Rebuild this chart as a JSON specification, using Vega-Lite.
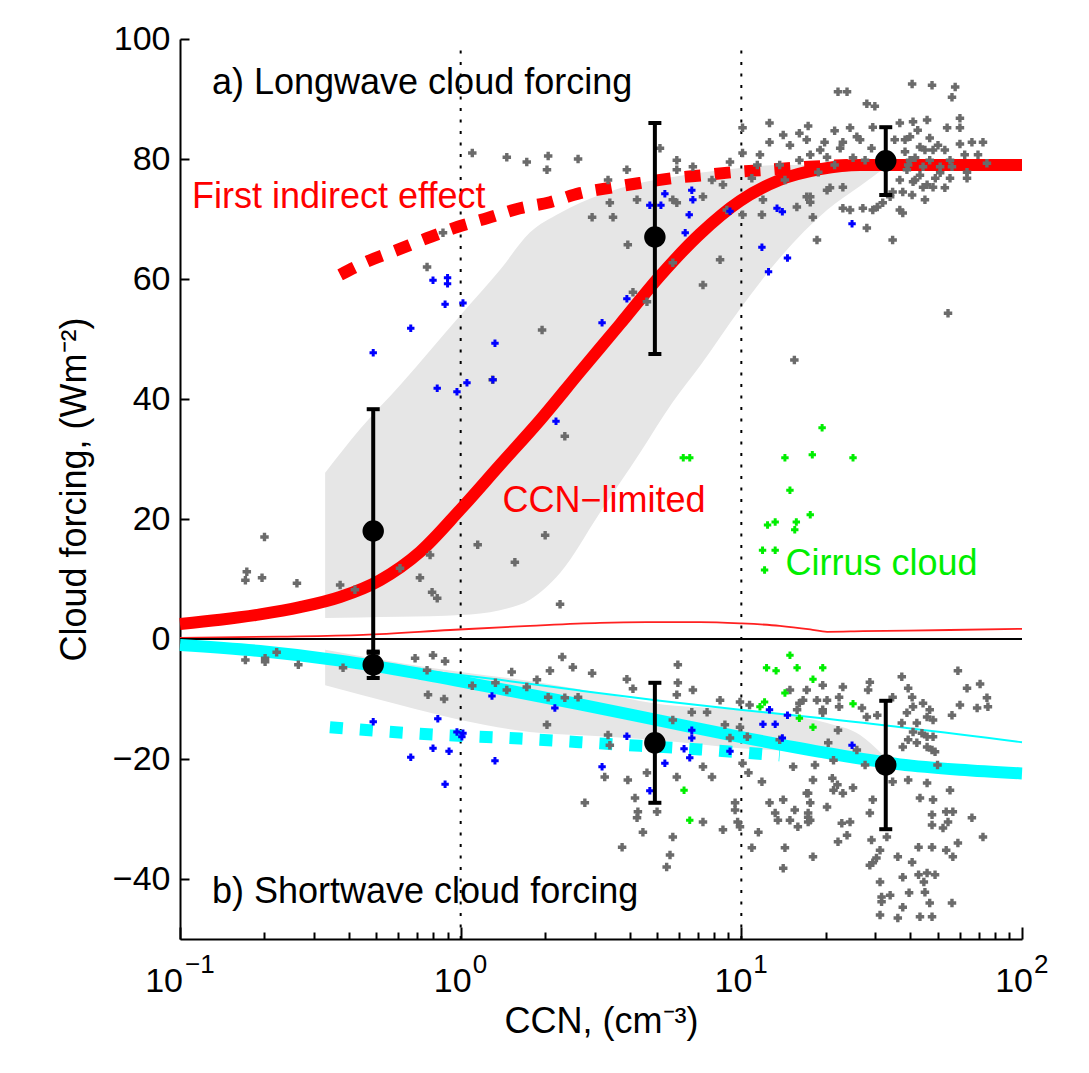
{
  "$schema": "https://vega.github.io/schema/vega-lite/v6.json",
  "width": 842,
  "height": 900,
  "autosize": {"type": "none"},
  "padding": {"left": 180, "top": 39, "right": 67, "bottom": 134},
  "background": "white",
  "config": {
    "view": {"stroke": null},
    "axis": {
      "domainColor": "#000000", "domainWidth": 2,
      "tickColor": "#000000", "tickWidth": 2,
      "labelColor": "#000000", "titleColor": "#000000",
      "labelFont": "Liberation Sans", "titleFont": "Liberation Sans",
      "labelFontSize": 34, "titleFontSize": 36, "titleFontWeight": "normal",
      "grid": false
    },
    "text": {"font": "Liberation Sans", "fontSize": 36}
  },
  "datasets": {
    "lwBand": [
      {"ccn": 0.329, "lo": 3.5, "hi": 27.7}, {"ccn": 0.438, "lo": 3.6, "hi": 35},
      {"ccn": 0.608, "lo": 3.7, "hi": 42.3}, {"ccn": 1.0, "lo": 4.0, "hi": 54},
      {"ccn": 1.38, "lo": 4.8, "hi": 61.5}, {"ccn": 1.76, "lo": 6.5, "hi": 67.7},
      {"ccn": 2.26, "lo": 11, "hi": 71}, {"ccn": 3.13, "lo": 21, "hi": 74},
      {"ccn": 4.35, "lo": 31, "hi": 76}, {"ccn": 5.7, "lo": 39.5, "hi": 77},
      {"ccn": 7.12, "lo": 45.5, "hi": 77.7}, {"ccn": 9.89, "lo": 55, "hi": 78.5},
      {"ccn": 13.7, "lo": 63.5, "hi": 79}, {"ccn": 20.2, "lo": 71.5, "hi": 79},
      {"ccn": 26.5, "lo": 75.5, "hi": 79}, {"ccn": 31.9, "lo": 78.3, "hi": 78.8}
    ],
    "swBand": [
      {"ccn": 0.329, "lo": -7.7, "hi": -1.8}, {"ccn": 0.608, "lo": -11, "hi": -4},
      {"ccn": 1.0, "lo": -13.5, "hi": -5.5}, {"ccn": 1.76, "lo": -15.5, "hi": -7},
      {"ccn": 3.13, "lo": -16.2, "hi": -9}, {"ccn": 4.86, "lo": -16.8, "hi": -10.7},
      {"ccn": 9.89, "lo": -18.2, "hi": -11.8}, {"ccn": 13.7, "lo": -18.6, "hi": -12.5},
      {"ccn": 20.2, "lo": -19, "hi": -14}, {"ccn": 26.5, "lo": -19.3, "hi": -16},
      {"ccn": 31.9, "lo": -19.5, "hi": -19.3}
    ],
    "lwLimited": [
      {"ccn": 0.1, "forcing": 2.5}, {"ccn": 0.1388, "forcing": 3.2}, {"ccn": 0.1928, "forcing": 4.1},
      {"ccn": 0.2677, "forcing": 5.3}, {"ccn": 0.3717, "forcing": 7.0}, {"ccn": 0.516, "forcing": 9.8},
      {"ccn": 0.716, "forcing": 14.5}, {"ccn": 0.994, "forcing": 21.5}, {"ccn": 1.38, "forcing": 29.0},
      {"ccn": 1.92, "forcing": 36.5}, {"ccn": 2.66, "forcing": 44.5}, {"ccn": 3.70, "forcing": 52.5},
      {"ccn": 5.13, "forcing": 60.5}, {"ccn": 7.12, "forcing": 67.5}, {"ccn": 9.89, "forcing": 73.0},
      {"ccn": 13.7, "forcing": 76.5}, {"ccn": 19.1, "forcing": 78.3}, {"ccn": 26.5, "forcing": 79.0},
      {"ccn": 36.7, "forcing": 79.0}, {"ccn": 100, "forcing": 79.0}
    ],
    "lwIndirect": [
      {"ccn": 0.372, "forcing": 60.7}, {"ccn": 0.459, "forcing": 62.8}, {"ccn": 0.592, "forcing": 64.8},
      {"ccn": 0.759, "forcing": 66.8}, {"ccn": 0.978, "forcing": 68.7}, {"ccn": 1.256, "forcing": 70.2},
      {"ccn": 1.626, "forcing": 71.8}, {"ccn": 2.08, "forcing": 72.8}, {"ccn": 2.66, "forcing": 74.3},
      {"ccn": 3.4, "forcing": 75.2}, {"ccn": 4.35, "forcing": 76.0}, {"ccn": 5.66, "forcing": 76.8},
      {"ccn": 7.3, "forcing": 77.3}, {"ccn": 9.32, "forcing": 77.8}, {"ccn": 12.3, "forcing": 78.2},
      {"ccn": 16.1, "forcing": 78.6}, {"ccn": 24, "forcing": 79}
    ],
    "lwThin": [
      {"ccn": 0.1, "forcing": 0.2}, {"ccn": 0.2272, "forcing": 0.4}, {"ccn": 0.449, "forcing": 0.7},
      {"ccn": 0.917, "forcing": 1.5}, {"ccn": 1.765, "forcing": 2.2}, {"ccn": 3.13, "forcing": 2.7},
      {"ccn": 4.61, "forcing": 2.8}, {"ccn": 7.12, "forcing": 2.8}, {"ccn": 9.89, "forcing": 2.6},
      {"ccn": 13.7, "forcing": 2.2}, {"ccn": 17.6, "forcing": 1.6}, {"ccn": 20.2, "forcing": 1.2},
      {"ccn": 27.1, "forcing": 1.3}, {"ccn": 55.4, "forcing": 1.5}, {"ccn": 100, "forcing": 1.7}
    ],
    "swLimited": [
      {"ccn": 0.1, "forcing": -1.0}, {"ccn": 0.1928, "forcing": -2.0}, {"ccn": 0.3717, "forcing": -3.6},
      {"ccn": 0.716, "forcing": -5.8}, {"ccn": 1.38, "forcing": -8.3}, {"ccn": 2.66, "forcing": -10.9},
      {"ccn": 5.13, "forcing": -13.6}, {"ccn": 9.89, "forcing": -16.3}, {"ccn": 19.1, "forcing": -18.8},
      {"ccn": 36.7, "forcing": -20.9}, {"ccn": 60.1, "forcing": -21.8}, {"ccn": 100, "forcing": -22.4}
    ],
    "swThin": [
      {"ccn": 0.1, "forcing": -1.0}, {"ccn": 0.3717, "forcing": -3.4}, {"ccn": 0.716, "forcing": -5.2},
      {"ccn": 1.38, "forcing": -6.8}, {"ccn": 2.66, "forcing": -8.6}, {"ccn": 5.13, "forcing": -10.3},
      {"ccn": 9.89, "forcing": -11.8}, {"ccn": 20.2, "forcing": -13.3}, {"ccn": 100, "forcing": -17.2}
    ],
    "swIndirect": [
      {"ccn": 0.342, "forcing": -14.7}, {"ccn": 0.716, "forcing": -15.8}, {"ccn": 1.626, "forcing": -16.6},
      {"ccn": 3.4, "forcing": -17.5}, {"ccn": 7.12, "forcing": -18.4}, {"ccn": 13.7, "forcing": -19.4}
    ],
    "verticals": [
      {"ccn": 1, "top": 99, "bottom": -50},
      {"ccn": 10, "top": 99, "bottom": -50}
    ],
    "means": [
      {"ccn": 0.488, "mean": 18, "lo": -2.3, "hi": 38.3},
      {"ccn": 0.488, "mean": -4.3, "lo": -6.5, "hi": -2.1},
      {"ccn": 4.92, "mean": 67, "lo": 47.5, "hi": 86},
      {"ccn": 4.92, "mean": -17.3, "lo": -27.3, "hi": -7.3},
      {"ccn": 32.7, "mean": 79.7, "lo": 74, "hi": 85.3},
      {"ccn": 32.7, "mean": -21, "lo": -31.7, "hi": -10.3}
    ],
    "other": [
      {"ccn": 1.10, "forcing": 81.0}, {"ccn": 1.46, "forcing": 80.3}, {"ccn": 1.72, "forcing": 79.5},
      {"ccn": 0.865, "forcing": 67.7}, {"ccn": 0.759, "forcing": 62.0}, {"ccn": 1.30, "forcing": 43.2},
      {"ccn": 2.05, "forcing": 80.5}, {"ccn": 2.03, "forcing": 78.2}, {"ccn": 2.62, "forcing": 80.0},
      {"ccn": 3.91, "forcing": 78.2}, {"ccn": 5.89, "forcing": 79.8}, {"ccn": 5.89, "forcing": 78.2},
      {"ccn": 6.72, "forcing": 78.7}, {"ccn": 9.11, "forcing": 79.5}, {"ccn": 10.1, "forcing": 81.0},
      {"ccn": 10.1, "forcing": 85.2}, {"ccn": 12.6, "forcing": 86.0}, {"ccn": 14.1, "forcing": 84.0},
      {"ccn": 11.65, "forcing": 80.7}, {"ccn": 12.6, "forcing": 82.8}, {"ccn": 3.35, "forcing": 76.5},
      {"ccn": 5.13, "forcing": 81.8}, {"ccn": 3.40, "forcing": 72.7}, {"ccn": 2.94, "forcing": 70.3},
      {"ccn": 3.49, "forcing": 70.3}, {"ccn": 4.25, "forcing": 73.2}, {"ccn": 5.70, "forcing": 73.2},
      {"ccn": 5.89, "forcing": 72.7}, {"ccn": 7.30, "forcing": 73.7}, {"ccn": 7.86, "forcing": 76.5},
      {"ccn": 8.60, "forcing": 75.7}, {"ccn": 8.88, "forcing": 71.5}, {"ccn": 10.1, "forcing": 70.7},
      {"ccn": 11.84, "forcing": 70.7}, {"ccn": 11.94, "forcing": 73.2}, {"ccn": 15.77, "forcing": 72.0},
      {"ccn": 17.6, "forcing": 73.7}, {"ccn": 17.98, "forcing": 70.3}, {"ccn": 18.6, "forcing": 66.5},
      {"ccn": 20.2, "forcing": 74.8}, {"ccn": 3.94, "forcing": 65.7}, {"ccn": 5.70, "forcing": 62.7},
      {"ccn": 8.40, "forcing": 63.2}, {"ccn": 7.30, "forcing": 59.0}, {"ccn": 4.11, "forcing": 57.8},
      {"ccn": 4.61, "forcing": 56.2}, {"ccn": 1.95, "forcing": 51.5}, {"ccn": 15.45, "forcing": 46.5},
      {"ccn": 22.1, "forcing": 91.2}, {"ccn": 23.8, "forcing": 91.2}, {"ccn": 28.0, "forcing": 89.2},
      {"ccn": 29.9, "forcing": 88.8}, {"ccn": 40.6, "forcing": 92.5}, {"ccn": 47.8, "forcing": 92.3},
      {"ccn": 57.8, "forcing": 92.0}, {"ccn": 56.3, "forcing": 90.3}, {"ccn": 17.3, "forcing": 85.5},
      {"ccn": 21.5, "forcing": 84.7}, {"ccn": 25.8, "forcing": 83.7}, {"ccn": 29.4, "forcing": 85.3},
      {"ccn": 36.7, "forcing": 86.0}, {"ccn": 40.9, "forcing": 86.2}, {"ccn": 45.9, "forcing": 86.5},
      {"ccn": 54.1, "forcing": 85.2}, {"ccn": 60.1, "forcing": 86.8}, {"ccn": 60.1, "forcing": 85.2},
      {"ccn": 66.3, "forcing": 82.8}, {"ccn": 72.6, "forcing": 82.8}, {"ccn": 69.7, "forcing": 80.7},
      {"ccn": 75.0, "forcing": 79.3}, {"ccn": 56.3, "forcing": 78.7}, {"ccn": 63.7, "forcing": 77.8},
      {"ccn": 63.7, "forcing": 76.8}, {"ccn": 51.1, "forcing": 77.7}, {"ccn": 44.4, "forcing": 75.3},
      {"ccn": 40.9, "forcing": 76.2}, {"ccn": 37.6, "forcing": 74.5}, {"ccn": 36.7, "forcing": 71.5},
      {"ccn": 31.9, "forcing": 72.7}, {"ccn": 29.4, "forcing": 71.5}, {"ccn": 27.1, "forcing": 71.8},
      {"ccn": 24.4, "forcing": 71.5}, {"ccn": 23.0, "forcing": 71.8}, {"ccn": 28.0, "forcing": 68.5},
      {"ccn": 34.6, "forcing": 66.5}, {"ccn": 17.1, "forcing": 83.2}, {"ccn": 19.8, "forcing": 82.8},
      {"ccn": 23.0, "forcing": 82.8}, {"ccn": 19.1, "forcing": 81.5}, {"ccn": 22.5, "forcing": 81.8},
      {"ccn": 17.6, "forcing": 80.7}, {"ccn": 20.2, "forcing": 80.3}, {"ccn": 25.0, "forcing": 80.2},
      {"ccn": 29.1, "forcing": 81.8}, {"ccn": 39.9, "forcing": 83.7}, {"ccn": 46.9, "forcing": 83.5},
      {"ccn": 43.3, "forcing": 82.0}, {"ccn": 48.2, "forcing": 81.5}, {"ccn": 39.9, "forcing": 79.8},
      {"ccn": 44.4, "forcing": 78.7}, {"ccn": 51.1, "forcing": 78.7}, {"ccn": 55.4, "forcing": 79.8},
      {"ccn": 38.9, "forcing": 78.2}, {"ccn": 41.6, "forcing": 76.5}, {"ccn": 45.9, "forcing": 75.7},
      {"ccn": 48.2, "forcing": 75.3}, {"ccn": 55.4, "forcing": 76.8}, {"ccn": 34.6, "forcing": 74.5},
      {"ccn": 30.5, "forcing": 72.0}, {"ccn": 33.9, "forcing": 73.7}, {"ccn": 37.6, "forcing": 71.0},
      {"ccn": 23.0, "forcing": 75.3}, {"ccn": 20.7, "forcing": 75.2}, {"ccn": 17.1, "forcing": 73.7},
      {"ccn": 17.6, "forcing": 72.8}, {"ccn": 54.5, "forcing": 54.3}, {"ccn": 16.1, "forcing": 84.3},
      {"ccn": 24.4, "forcing": 85.2}, {"ccn": 26.5, "forcing": 83.2}, {"ccn": 14.9, "forcing": 82.3},
      {"ccn": 16.1, "forcing": 79.8}, {"ccn": 13.7, "forcing": 79.0}, {"ccn": 21.5, "forcing": 79.0},
      {"ccn": 27.6, "forcing": 79.8}, {"ccn": 18.8, "forcing": 77.8}, {"ccn": 14.3, "forcing": 76.5},
      {"ccn": 11.4, "forcing": 79.0}, {"ccn": 10.9, "forcing": 76.8}, {"ccn": 38.3, "forcing": 83.2},
      {"ccn": 42.5, "forcing": 84.8}, {"ccn": 45.1, "forcing": 81.5}, {"ccn": 38.3, "forcing": 81.2},
      {"ccn": 41.6, "forcing": 80.2}, {"ccn": 46.9, "forcing": 79.8}, {"ccn": 50.2, "forcing": 82.3},
      {"ccn": 53.1, "forcing": 81.5}, {"ccn": 39.3, "forcing": 79.0}, {"ccn": 43.3, "forcing": 77.3},
      {"ccn": 49.1, "forcing": 76.8}, {"ccn": 53.1, "forcing": 75.2}, {"ccn": 60.1, "forcing": 82.5},
      {"ccn": 62.5, "forcing": 80.7}, {"ccn": 36.7, "forcing": 76.5}, {"ccn": 40.6, "forcing": 74.0},
      {"ccn": 45.1, "forcing": 73.2}, {"ccn": 35.2, "forcing": 83.2},
      {"ccn": 0.200, "forcing": 17.0}, {"ccn": 0.173, "forcing": 11.2}, {"ccn": 0.171, "forcing": 9.8},
      {"ccn": 0.196, "forcing": 10.2}, {"ccn": 0.261, "forcing": 9.3}, {"ccn": 0.372, "forcing": 9.0},
      {"ccn": 0.420, "forcing": 8.2}, {"ccn": 0.608, "forcing": 11.8}, {"ccn": 0.716, "forcing": 10.2},
      {"ccn": 0.791, "forcing": 7.8}, {"ccn": 0.825, "forcing": 6.8}, {"ccn": 0.778, "forcing": 14.0},
      {"ccn": 1.15, "forcing": 15.7}, {"ccn": 1.56, "forcing": 12.8}, {"ccn": 2.00, "forcing": 17.3},
      {"ccn": 2.26, "forcing": 5.8}, {"ccn": 2.35, "forcing": 33.8},
      {"ccn": 0.171, "forcing": -3.5}, {"ccn": 0.201, "forcing": -3.2}, {"ccn": 0.201, "forcing": -3.8},
      {"ccn": 0.221, "forcing": -2.2}, {"ccn": 0.264, "forcing": -4.3}, {"ccn": 0.381, "forcing": -4.8},
      {"ccn": 0.688, "forcing": -3.2}, {"ccn": 0.797, "forcing": -2.7}, {"ccn": 0.88, "forcing": -3.7},
      {"ccn": 0.759, "forcing": -5.2}, {"ccn": 0.765, "forcing": -9.3}, {"ccn": 0.873, "forcing": -10.0},
      {"ccn": 1.10, "forcing": -7.8}, {"ccn": 1.33, "forcing": -7.3}, {"ccn": 1.46, "forcing": -8.5},
      {"ccn": 1.52, "forcing": -5.5}, {"ccn": 1.72, "forcing": -8.0}, {"ccn": 2.30, "forcing": -3.0},
      {"ccn": 2.08, "forcing": -5.3}, {"ccn": 2.51, "forcing": -4.7}, {"ccn": 2.94, "forcing": -5.7},
      {"ccn": 1.87, "forcing": -6.8}, {"ccn": 2.35, "forcing": -9.8}, {"ccn": 2.62, "forcing": -9.7},
      {"ccn": 2.05, "forcing": -9.7}, {"ccn": 2.03, "forcing": -14.3}, {"ccn": 3.91, "forcing": -6.7},
      {"ccn": 4.11, "forcing": -8.3}, {"ccn": 5.94, "forcing": -4.3}, {"ccn": 5.94, "forcing": -7.3},
      {"ccn": 5.89, "forcing": -9.3}, {"ccn": 6.72, "forcing": -8.5}, {"ccn": 5.70, "forcing": -13.5},
      {"ccn": 6.66, "forcing": -12.2}, {"ccn": 7.55, "forcing": -12.2}, {"ccn": 8.40, "forcing": -10.2},
      {"ccn": 8.74, "forcing": -14.3}, {"ccn": 9.11, "forcing": -16.5}, {"ccn": 3.35, "forcing": -16.0},
      {"ccn": 3.40, "forcing": -17.7}, {"ccn": 9.89, "forcing": -10.5}, {"ccn": 10.7, "forcing": -11.0},
      {"ccn": 9.89, "forcing": -14.7}, {"ccn": 10.5, "forcing": -16.3}, {"ccn": 13.7, "forcing": -16.8},
      {"ccn": 14.9, "forcing": -8.5}, {"ccn": 17.1, "forcing": -8.5}, {"ccn": 19.5, "forcing": -7.7},
      {"ccn": 16.6, "forcing": -10.2}, {"ccn": 18.6, "forcing": -10.2}, {"ccn": 19.5, "forcing": -11.8},
      {"ccn": 15.8, "forcing": -11.8}, {"ccn": 7.30, "forcing": -21.3}, {"ccn": 7.86, "forcing": -23.0},
      {"ccn": 5.89, "forcing": -23.0}, {"ccn": 4.61, "forcing": -22.3}, {"ccn": 3.94, "forcing": -23.5},
      {"ccn": 3.26, "forcing": -23.0}, {"ccn": 2.77, "forcing": -27.3}, {"ccn": 4.18, "forcing": -26.5},
      {"ccn": 4.28, "forcing": -28.8}, {"ccn": 4.25, "forcing": -29.8}, {"ccn": 5.01, "forcing": -28.8},
      {"ccn": 4.46, "forcing": -32.2}, {"ccn": 5.70, "forcing": -33.0}, {"ccn": 7.30, "forcing": -30.5},
      {"ccn": 8.60, "forcing": -31.8}, {"ccn": 3.76, "forcing": -34.7}, {"ccn": 5.57, "forcing": -36.0},
      {"ccn": 5.42, "forcing": -38.0}, {"ccn": 9.5, "forcing": -27.3}, {"ccn": 9.5, "forcing": -28.5},
      {"ccn": 9.7, "forcing": -30.5}, {"ccn": 9.89, "forcing": -31.3}, {"ccn": 10.1, "forcing": -20.7},
      {"ccn": 10.6, "forcing": -22.3}, {"ccn": 11.84, "forcing": -23.8}, {"ccn": 12.6, "forcing": -27.3},
      {"ccn": 14.1, "forcing": -26.8}, {"ccn": 13.2, "forcing": -29.0}, {"ccn": 13.5, "forcing": -30.2},
      {"ccn": 15.5, "forcing": -28.5}, {"ccn": 14.9, "forcing": -30.2}, {"ccn": 17.1, "forcing": -25.7},
      {"ccn": 17.3, "forcing": -29.0}, {"ccn": 17.6, "forcing": -30.2}, {"ccn": 15.9, "forcing": -31.3},
      {"ccn": 18.0, "forcing": -23.5}, {"ccn": 15.3, "forcing": -21.3}, {"ccn": 18.3, "forcing": -21.0},
      {"ccn": 20.2, "forcing": -28.0}, {"ccn": 11.5, "forcing": -32.2}, {"ccn": 14.3, "forcing": -34.8},
      {"ccn": 14.1, "forcing": -38.2}, {"ccn": 10.9, "forcing": -34.8}, {"ccn": 18.0, "forcing": -36.3},
      {"ccn": 23.0, "forcing": -8.0}, {"ccn": 28.3, "forcing": -8.5}, {"ccn": 28.7, "forcing": -7.2},
      {"ccn": 37.3, "forcing": -6.3}, {"ccn": 39.3, "forcing": -8.2}, {"ccn": 59.1, "forcing": -5.3},
      {"ccn": 63.7, "forcing": -8.2}, {"ccn": 70.9, "forcing": -7.5}, {"ccn": 60.1, "forcing": -11.0},
      {"ccn": 69.2, "forcing": -11.5}, {"ccn": 75.0, "forcing": -9.8}, {"ccn": 75.6, "forcing": -11.3},
      {"ccn": 56.3, "forcing": -12.7}, {"ccn": 16.1, "forcing": -10.7}, {"ccn": 20.2, "forcing": -10.2},
      {"ccn": 19.5, "forcing": -12.3}, {"ccn": 22.3, "forcing": -11.3}, {"ccn": 22.3, "forcing": -9.7},
      {"ccn": 26.9, "forcing": -11.5}, {"ccn": 28.0, "forcing": -13.0}, {"ccn": 30.5, "forcing": -12.7},
      {"ccn": 34.6, "forcing": -9.7}, {"ccn": 40.6, "forcing": -9.7}, {"ccn": 40.9, "forcing": -11.3},
      {"ccn": 44.4, "forcing": -10.7}, {"ccn": 46.9, "forcing": -11.8}, {"ccn": 45.9, "forcing": -13.0},
      {"ccn": 48.2, "forcing": -13.5}, {"ccn": 38.9, "forcing": -12.3}, {"ccn": 37.3, "forcing": -14.0},
      {"ccn": 42.2, "forcing": -14.0}, {"ccn": 40.9, "forcing": -15.5}, {"ccn": 44.0, "forcing": -15.7},
      {"ccn": 45.9, "forcing": -16.3}, {"ccn": 48.2, "forcing": -16.3}, {"ccn": 39.3, "forcing": -16.8},
      {"ccn": 42.2, "forcing": -17.3}, {"ccn": 45.9, "forcing": -18.0}, {"ccn": 47.8, "forcing": -18.5},
      {"ccn": 37.6, "forcing": -18.0}, {"ccn": 22.1, "forcing": -15.2}, {"ccn": 20.4, "forcing": -17.3},
      {"ccn": 21.3, "forcing": -20.2}, {"ccn": 25.8, "forcing": -18.5}, {"ccn": 27.6, "forcing": -21.0},
      {"ccn": 34.6, "forcing": -23.8}, {"ccn": 39.3, "forcing": -23.5}, {"ccn": 45.9, "forcing": -24.0},
      {"ccn": 50.0, "forcing": -21.0}, {"ccn": 49.0, "forcing": -18.8}, {"ccn": 21.1, "forcing": -23.2},
      {"ccn": 22.0, "forcing": -24.3}, {"ccn": 21.3, "forcing": -25.2}, {"ccn": 23.0, "forcing": -25.7},
      {"ccn": 25.0, "forcing": -24.8}, {"ccn": 17.3, "forcing": -25.7}, {"ccn": 17.6, "forcing": -27.3},
      {"ccn": 17.3, "forcing": -29.7}, {"ccn": 17.3, "forcing": -30.5}, {"ccn": 22.8, "forcing": -30.7},
      {"ccn": 24.4, "forcing": -30.5}, {"ccn": 23.8, "forcing": -32.7}, {"ccn": 22.1, "forcing": -33.8},
      {"ccn": 28.7, "forcing": -29.0}, {"ccn": 29.4, "forcing": -26.8}, {"ccn": 29.1, "forcing": -33.5},
      {"ccn": 31.2, "forcing": -35.2}, {"ccn": 30.3, "forcing": -36.5}, {"ccn": 28.7, "forcing": -37.7},
      {"ccn": 33.0, "forcing": -33.0}, {"ccn": 36.1, "forcing": -36.3}, {"ccn": 40.6, "forcing": -37.2},
      {"ccn": 42.8, "forcing": -34.7}, {"ccn": 47.8, "forcing": -34.7}, {"ccn": 43.3, "forcing": -26.5},
      {"ccn": 48.2, "forcing": -26.8}, {"ccn": 47.8, "forcing": -29.3}, {"ccn": 47.8, "forcing": -31.0},
      {"ccn": 52.3, "forcing": -31.5}, {"ccn": 53.7, "forcing": -28.8}, {"ccn": 56.7, "forcing": -28.8},
      {"ccn": 54.5, "forcing": -30.5}, {"ccn": 66.3, "forcing": -29.8}, {"ccn": 55.4, "forcing": -25.2},
      {"ccn": 59.1, "forcing": -34.0}, {"ccn": 56.7, "forcing": -36.3}, {"ccn": 53.7, "forcing": -35.2},
      {"ccn": 72.6, "forcing": -33.0}, {"ccn": 31.2, "forcing": -40.5}, {"ccn": 37.6, "forcing": -39.7},
      {"ccn": 42.8, "forcing": -39.3}, {"ccn": 45.9, "forcing": -39.0}, {"ccn": 49.0, "forcing": -39.3},
      {"ccn": 44.7, "forcing": -40.5}, {"ccn": 45.1, "forcing": -42.2}, {"ccn": 39.6, "forcing": -42.3},
      {"ccn": 31.6, "forcing": -43.0}, {"ccn": 31.6, "forcing": -43.8}, {"ccn": 37.6, "forcing": -44.7},
      {"ccn": 46.9, "forcing": -44.0}, {"ccn": 56.3, "forcing": -44.0}, {"ccn": 31.2, "forcing": -46.0},
      {"ccn": 36.1, "forcing": -46.5}, {"ccn": 43.3, "forcing": -46.3}, {"ccn": 47.8, "forcing": -46.3},
      {"ccn": 33.9, "forcing": -42.7}, {"ccn": 29.4, "forcing": -37.3}
    ],
    "limited": [
      {"ccn": 0.797, "forcing": 59.8}, {"ccn": 0.898, "forcing": 60.2}, {"ccn": 0.898, "forcing": 59.2},
      {"ccn": 0.88, "forcing": 55.8}, {"ccn": 1.019, "forcing": 56.0}, {"ccn": 0.664, "forcing": 51.8},
      {"ccn": 0.488, "forcing": 47.7}, {"ccn": 1.325, "forcing": 49.3}, {"ccn": 0.825, "forcing": 41.8},
      {"ccn": 0.97, "forcing": 41.2}, {"ccn": 1.053, "forcing": 42.7}, {"ccn": 1.303, "forcing": 43.2},
      {"ccn": 6.66, "forcing": 74.8}, {"ccn": 6.72, "forcing": 73.2}, {"ccn": 5.34, "forcing": 74.2},
      {"ccn": 4.72, "forcing": 72.3}, {"ccn": 5.17, "forcing": 72.3}, {"ccn": 6.52, "forcing": 70.7},
      {"ccn": 6.31, "forcing": 67.7}, {"ccn": 9.11, "forcing": 71.3}, {"ccn": 3.19, "forcing": 52.7},
      {"ccn": 3.91, "forcing": 56.7}, {"ccn": 13.4, "forcing": 71.8}, {"ccn": 14.0, "forcing": 71.2},
      {"ccn": 11.84, "forcing": 65.3}, {"ccn": 14.6, "forcing": 63.5}, {"ccn": 12.5, "forcing": 61.2},
      {"ccn": 24.8, "forcing": 69.2}, {"ccn": 2.186, "forcing": 36.3},
      {"ccn": 0.488, "forcing": -13.8}, {"ccn": 0.829, "forcing": -13.3}, {"ccn": 0.664, "forcing": -19.7},
      {"ccn": 0.797, "forcing": -18.2}, {"ccn": 0.909, "forcing": -18.7}, {"ccn": 0.97, "forcing": -15.5},
      {"ccn": 1.019, "forcing": -15.7}, {"ccn": 1.01, "forcing": -16.3}, {"ccn": 1.325, "forcing": -20.3},
      {"ccn": 0.88, "forcing": -24.2}, {"ccn": 1.293, "forcing": -9.5}, {"ccn": 2.166, "forcing": -11.5},
      {"ccn": 3.91, "forcing": -16.2}, {"ccn": 6.66, "forcing": -15.2}, {"ccn": 6.66, "forcing": -16.5},
      {"ccn": 6.25, "forcing": -18.3}, {"ccn": 6.55, "forcing": -19.8}, {"ccn": 5.34, "forcing": -20.7},
      {"ccn": 3.19, "forcing": -21.3}, {"ccn": 4.72, "forcing": -25.3}, {"ccn": 9.11, "forcing": -18.7},
      {"ccn": 12.6, "forcing": -11.8}, {"ccn": 14.6, "forcing": -12.7}, {"ccn": 11.94, "forcing": -14.2},
      {"ccn": 13.2, "forcing": -14.2}, {"ccn": 14.0, "forcing": -16.5}, {"ccn": 24.8, "forcing": -17.7}
    ],
    "cirrus": [
      {"ccn": 6.21, "forcing": 30.2}, {"ccn": 6.55, "forcing": 30.2}, {"ccn": 14.3, "forcing": 30.2},
      {"ccn": 17.9, "forcing": 30.7}, {"ccn": 19.4, "forcing": 35.2}, {"ccn": 25.0, "forcing": 30.2},
      {"ccn": 14.9, "forcing": 24.8}, {"ccn": 12.4, "forcing": 19.0}, {"ccn": 13.2, "forcing": 19.5},
      {"ccn": 15.7, "forcing": 19.5}, {"ccn": 17.6, "forcing": 20.7}, {"ccn": 15.5, "forcing": 18.2},
      {"ccn": 11.9, "forcing": 14.8}, {"ccn": 13.2, "forcing": 14.8}, {"ccn": 12.1, "forcing": 11.5},
      {"ccn": 12.3, "forcing": -4.8}, {"ccn": 13.3, "forcing": -5.3}, {"ccn": 14.9, "forcing": -2.7},
      {"ccn": 15.8, "forcing": -4.8}, {"ccn": 18.0, "forcing": -6.7}, {"ccn": 19.5, "forcing": -4.8},
      {"ccn": 14.3, "forcing": -9.0}, {"ccn": 12.1, "forcing": -10.5}, {"ccn": 11.65, "forcing": -11.3},
      {"ccn": 16.1, "forcing": -13.2}, {"ccn": 18.0, "forcing": -14.7}, {"ccn": 6.25, "forcing": -25.2},
      {"ccn": 6.55, "forcing": -30.2}, {"ccn": 25.0, "forcing": -10.8}
    ],
    "firstDecade": [
      {"ccn": 0.1, "power": "−1"}
    ],
    "otherDecades": [
      {"ccn": 1, "power": "0"}, {"ccn": 10, "power": "1"}, {"ccn": 100, "power": "2"}
    ]
  },
  "layer": [
    {
      "data": {"name": "lwBand"},
      "mark": {"type": "area", "color": "#e6e6e6", "interpolate": "monotone"},
      "encoding": {
        "x": {
          "field": "ccn", "type": "quantitative",
          "scale": {"type": "log", "domain": [0.1, 100], "nice": false},
          "axis": {
            "title": "CCN, (cm⁻³)",
            "values": [0.1, 0.2, 0.3, 0.4, 0.5, 0.6, 0.7, 0.8, 0.9, 1, 2, 3, 4, 5, 6, 7, 8, 9, 10, 20, 30, 40, 50, 60, 70, 80, 90, 100],
            "labels": false,
            "tickSize": {"condition": {"test": "datum.value === 0.1 || datum.value === 1 || datum.value === 10 || datum.value === 100", "value": -12}, "value": -7},
            "titlePadding": 64
          }
        },
        "y": {
          "field": "lo", "type": "quantitative",
          "scale": {"domain": [-50, 100], "nice": false, "zero": false},
          "axis": {
            "title": "Cloud forcing, (Wm⁻²)",
            "values": [-40, -20, 0, 20, 40, 60, 80, 100],
            "tickSize": -9,
            "labelPadding": 19,
            "titlePadding": 19,
            "labelFlush": false,
            "labelOverlap": false
          }
        },
        "y2": {"field": "hi"}
      }
    },
    {
      "data": {"name": "swBand"},
      "mark": {"type": "area", "color": "#e6e6e6", "interpolate": "monotone"},
      "encoding": {
        "x": {"field": "ccn", "type": "quantitative", "scale": {"type": "log", "domain": [0.1, 100], "nice": false}},
        "y": {"field": "lo", "type": "quantitative", "scale": {"domain": [-50, 100], "nice": false, "zero": false}},
        "y2": {"field": "hi"}
      }
    },
    {
      "data": {"name": "verticals"},
      "mark": {"type": "rule", "color": "#000000", "strokeWidth": 2, "strokeDash": [3, 8.5]},
      "encoding": {
        "x": {"field": "ccn", "type": "quantitative", "scale": {"type": "log", "domain": [0.1, 100], "nice": false}},
        "y": {"field": "bottom", "type": "quantitative", "scale": {"domain": [-50, 100], "nice": false, "zero": false}},
        "y2": {"field": "top"}
      }
    },
    {
      "data": {"name": "lwThin"},
      "mark": {"type": "line", "color": "#ff2020", "strokeWidth": 1.8, "interpolate": "monotone"},
      "encoding": {
        "x": {"field": "ccn", "type": "quantitative", "scale": {"type": "log", "domain": [0.1, 100], "nice": false}},
        "y": {"field": "forcing", "type": "quantitative", "scale": {"domain": [-50, 100], "nice": false, "zero": false}}
      }
    },
    {
      "data": {"name": "lwLimited"},
      "mark": {"type": "line", "color": "#ff0000", "strokeWidth": 12, "interpolate": "monotone"},
      "encoding": {
        "x": {"field": "ccn", "type": "quantitative", "scale": {"type": "log", "domain": [0.1, 100], "nice": false}},
        "y": {"field": "forcing", "type": "quantitative", "scale": {"domain": [-50, 100], "nice": false, "zero": false}}
      }
    },
    {
      "data": {"name": "lwIndirect"},
      "mark": {"type": "line", "color": "#ff0000", "strokeWidth": 12, "strokeDash": [16, 14], "strokeCap": "butt", "interpolate": "monotone"},
      "encoding": {
        "x": {"field": "ccn", "type": "quantitative", "scale": {"type": "log", "domain": [0.1, 100], "nice": false}},
        "y": {"field": "forcing", "type": "quantitative", "scale": {"domain": [-50, 100], "nice": false, "zero": false}}
      }
    },
    {
      "data": {"values": [{"forcing": 0}]},
      "mark": {"type": "rule", "color": "#000000", "strokeWidth": 2},
      "encoding": {
        "y": {"field": "forcing", "type": "quantitative", "scale": {"domain": [-50, 100], "nice": false, "zero": false}}
      }
    },
    {
      "data": {"name": "swThin"},
      "mark": {"type": "line", "color": "#00ffff", "strokeWidth": 2, "interpolate": "monotone"},
      "encoding": {
        "x": {"field": "ccn", "type": "quantitative", "scale": {"type": "log", "domain": [0.1, 100], "nice": false}},
        "y": {"field": "forcing", "type": "quantitative", "scale": {"domain": [-50, 100], "nice": false, "zero": false}}
      }
    },
    {
      "data": {"name": "swLimited"},
      "mark": {"type": "line", "color": "#00ffff", "strokeWidth": 12, "interpolate": "monotone"},
      "encoding": {
        "x": {"field": "ccn", "type": "quantitative", "scale": {"type": "log", "domain": [0.1, 100], "nice": false}},
        "y": {"field": "forcing", "type": "quantitative", "scale": {"domain": [-50, 100], "nice": false, "zero": false}}
      }
    },
    {
      "data": {"name": "swIndirect"},
      "mark": {"type": "line", "color": "#00ffff", "strokeWidth": 12, "strokeDash": [13, 17], "strokeCap": "butt", "interpolate": "monotone"},
      "encoding": {
        "x": {"field": "ccn", "type": "quantitative", "scale": {"type": "log", "domain": [0.1, 100], "nice": false}},
        "y": {"field": "forcing", "type": "quantitative", "scale": {"domain": [-50, 100], "nice": false, "zero": false}}
      }
    },
    {
      "data": {"name": "other"},
      "mark": {"type": "point", "shape": "cross", "filled": true, "size": 72, "color": "#6b6b6b", "opacity": 1},
      "encoding": {
        "x": {"field": "ccn", "type": "quantitative", "scale": {"type": "log", "domain": [0.1, 100], "nice": false}},
        "y": {"field": "forcing", "type": "quantitative", "scale": {"domain": [-50, 100], "nice": false, "zero": false}}
      }
    },
    {
      "data": {"name": "limited"},
      "mark": {"type": "point", "shape": "cross", "filled": true, "size": 55, "color": "#0000ff", "opacity": 1},
      "encoding": {
        "x": {"field": "ccn", "type": "quantitative", "scale": {"type": "log", "domain": [0.1, 100], "nice": false}},
        "y": {"field": "forcing", "type": "quantitative", "scale": {"domain": [-50, 100], "nice": false, "zero": false}}
      }
    },
    {
      "data": {"name": "cirrus"},
      "mark": {"type": "point", "shape": "cross", "filled": true, "size": 55, "color": "#00ee00", "opacity": 1},
      "encoding": {
        "x": {"field": "ccn", "type": "quantitative", "scale": {"type": "log", "domain": [0.1, 100], "nice": false}},
        "y": {"field": "forcing", "type": "quantitative", "scale": {"domain": [-50, 100], "nice": false, "zero": false}}
      }
    },
    {
      "data": {"name": "means"},
      "mark": {"type": "rule", "color": "#000000", "strokeWidth": 4},
      "encoding": {
        "x": {"field": "ccn", "type": "quantitative", "scale": {"type": "log", "domain": [0.1, 100], "nice": false}},
        "y": {"field": "lo", "type": "quantitative", "scale": {"domain": [-50, 100], "nice": false, "zero": false}},
        "y2": {"field": "hi"}
      }
    },
    {
      "data": {"name": "means"},
      "mark": {"type": "tick", "orient": "horizontal", "color": "#000000", "size": 13, "thickness": 4, "opacity": 1},
      "encoding": {
        "x": {"field": "ccn", "type": "quantitative", "scale": {"type": "log", "domain": [0.1, 100], "nice": false}},
        "y": {"field": "lo", "type": "quantitative", "scale": {"domain": [-50, 100], "nice": false, "zero": false}}
      }
    },
    {
      "data": {"name": "means"},
      "mark": {"type": "tick", "orient": "horizontal", "color": "#000000", "size": 13, "thickness": 4, "opacity": 1},
      "encoding": {
        "x": {"field": "ccn", "type": "quantitative", "scale": {"type": "log", "domain": [0.1, 100], "nice": false}},
        "y": {"field": "hi", "type": "quantitative", "scale": {"domain": [-50, 100], "nice": false, "zero": false}}
      }
    },
    {
      "data": {"name": "means"},
      "mark": {"type": "circle", "color": "#000000", "size": 460, "opacity": 1},
      "encoding": {
        "x": {"field": "ccn", "type": "quantitative", "scale": {"type": "log", "domain": [0.1, 100], "nice": false}},
        "y": {"field": "mean", "type": "quantitative", "scale": {"domain": [-50, 100], "nice": false, "zero": false}}
      }
    },
    {
      "data": {"name": "firstDecade"},
      "mark": {"type": "text", "text": "10", "align": "right", "baseline": "alphabetic", "dx": 3, "dy": 53, "fontSize": 34, "color": "#000000"},
      "encoding": {
        "x": {"field": "ccn", "type": "quantitative", "scale": {"type": "log", "domain": [0.1, 100], "nice": false}},
        "y": {"datum": -50, "type": "quantitative", "scale": {"domain": [-50, 100], "nice": false, "zero": false}}
      }
    },
    {
      "data": {"name": "firstDecade"},
      "mark": {"type": "text", "align": "left", "baseline": "alphabetic", "dx": 5, "dy": 34, "fontSize": 26, "color": "#000000"},
      "encoding": {
        "x": {"field": "ccn", "type": "quantitative", "scale": {"type": "log", "domain": [0.1, 100], "nice": false}},
        "y": {"datum": -50, "type": "quantitative", "scale": {"domain": [-50, 100], "nice": false, "zero": false}},
        "text": {"field": "power"}
      }
    },
    {
      "data": {"name": "otherDecades"},
      "mark": {"type": "text", "text": "10", "align": "right", "baseline": "alphabetic", "dx": 11, "dy": 53, "fontSize": 34, "color": "#000000"},
      "encoding": {
        "x": {"field": "ccn", "type": "quantitative", "scale": {"type": "log", "domain": [0.1, 100], "nice": false}},
        "y": {"datum": -50, "type": "quantitative", "scale": {"domain": [-50, 100], "nice": false, "zero": false}}
      }
    },
    {
      "data": {"name": "otherDecades"},
      "mark": {"type": "text", "align": "left", "baseline": "alphabetic", "dx": 12, "dy": 34, "fontSize": 26, "color": "#000000"},
      "encoding": {
        "x": {"field": "ccn", "type": "quantitative", "scale": {"type": "log", "domain": [0.1, 100], "nice": false}},
        "y": {"datum": -50, "type": "quantitative", "scale": {"domain": [-50, 100], "nice": false, "zero": false}},
        "text": {"field": "power"}
      }
    },
    {
      "data": {"values": [
        {"ccn": 0.13, "forcing": 90.8, "note": "a) Longwave cloud forcing"},
        {"ccn": 0.13, "forcing": -44.0, "note": "b) Shortwave cloud forcing"}
      ]},
      "mark": {"type": "text", "align": "left", "baseline": "alphabetic", "color": "#000000", "fontSize": 36},
      "encoding": {
        "x": {"field": "ccn", "type": "quantitative", "scale": {"type": "log", "domain": [0.1, 100], "nice": false}},
        "y": {"field": "forcing", "type": "quantitative", "scale": {"domain": [-50, 100], "nice": false, "zero": false}},
        "text": {"field": "note"}
      }
    },
    {
      "data": {"values": [{"ccn": 0.1104, "forcing": 71.8, "note": "First indirect effect"}]},
      "mark": {"type": "text", "align": "left", "baseline": "alphabetic", "color": "#ff0000", "fontSize": 36},
      "encoding": {
        "x": {"field": "ccn", "type": "quantitative", "scale": {"type": "log", "domain": [0.1, 100], "nice": false}},
        "y": {"field": "forcing", "type": "quantitative", "scale": {"domain": [-50, 100], "nice": false, "zero": false}},
        "text": {"field": "note"}
      }
    },
    {
      "data": {"values": [{"ccn": 3.24, "forcing": 21.2, "note": "CCN−limited"}]},
      "mark": {"type": "text", "align": "center", "baseline": "alphabetic", "color": "#ff0000", "fontSize": 36},
      "encoding": {
        "x": {"field": "ccn", "type": "quantitative", "scale": {"type": "log", "domain": [0.1, 100], "nice": false}},
        "y": {"field": "forcing", "type": "quantitative", "scale": {"domain": [-50, 100], "nice": false, "zero": false}},
        "text": {"field": "note"}
      }
    },
    {
      "data": {"values": [{"ccn": 31.6, "forcing": 10.7, "note": "Cirrus cloud"}]},
      "mark": {"type": "text", "align": "center", "baseline": "alphabetic", "color": "#00ee00", "fontSize": 36},
      "encoding": {
        "x": {"field": "ccn", "type": "quantitative", "scale": {"type": "log", "domain": [0.1, 100], "nice": false}},
        "y": {"field": "forcing", "type": "quantitative", "scale": {"domain": [-50, 100], "nice": false, "zero": false}},
        "text": {"field": "note"}
      }
    }
  ]
}
